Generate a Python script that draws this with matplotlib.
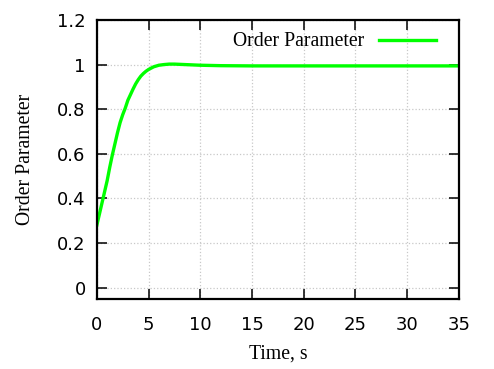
import matplotlib.pyplot as plt

# 数据
time_s = [0, 0.25, 0.5, 0.75, 1, 1.25, 1.5, 1.75, 2, 2.25, 2.5, 2.75, 3, 3.25, 3.5,
          3.75, 4, 4.25, 4.5, 4.75, 5, 5.5, 6, 6.5, 7, 7.5, 8, 9, 10, 12, 15, 20, 25, 30, 35]
order_param = [0.28, 0.33, 0.38, 0.43, 0.48, 0.54, 0.595, 0.645, 0.695, 0.74, 0.775,
               0.805, 0.84, 0.865, 0.89, 0.913, 0.932, 0.948, 0.96, 0.97, 0.978, 0.99,
               0.997, 1.0, 1.002, 1.002, 1.001, 0.999, 0.997, 0.995, 0.994, 0.994,
               0.994, 0.994, 0.994]
x_ticks = [0, 5, 10, 15, 20, 25, 30, 35]
y_ticks = [0, 0.2, 0.4, 0.6, 0.8, 1, 1.2]
y_labels = ['0', '0.2', '0.4', '0.6', '0.8', '1', '1.2']

fig = plt.figure(figsize=(4.94, 3.69), dpi=100)
ax = fig.add_axes([0.196, 0.19, 0.733, 0.756])

ax.plot(time_s, order_param, color='#00ff00', lw=2.4, label='Order Parameter')

ax.set_xlim(0, 35)
ax.set_ylim(-0.05, 1.2)
ax.set_xticks(x_ticks)
ax.set_yticks(y_ticks)
ax.set_yticklabels(y_labels)
ax.grid(True, color='#c8c8c8', linestyle=':', lw=0.9)

ax.tick_params(direction='in', length=7, width=1.1, labelsize=13,
               top=True, right=True)
ax.tick_params(axis='y', pad=8)
ax.tick_params(axis='x', pad=12)
for s in ax.spines.values():
    s.set_linewidth(1.6)

serif = {'family': 'Liberation Serif', 'size': 14.2}
ax.set_xlabel('Time, s', fontdict=serif, labelpad=8)
ax.set_ylabel('Order Parameter', fontdict=serif, labelpad=16)

ax.legend(loc='upper right', frameon=False, markerfirst=False,
          prop={'family': 'Liberation Serif', 'size': 14.2},
          handlelength=2.9, handletextpad=0.75, borderaxespad=0.9,
          bbox_to_anchor=(1.007, 1.047))

plt.savefig('out.png', dpi=100)
